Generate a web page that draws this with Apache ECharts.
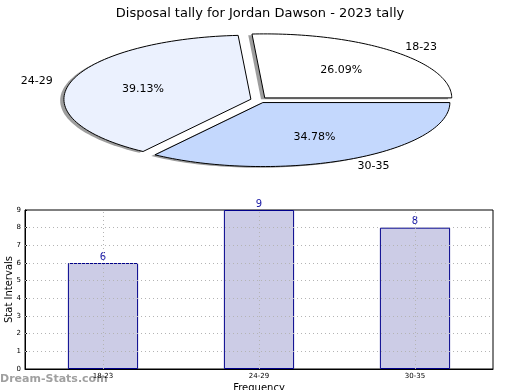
<!DOCTYPE html>
<html><head><meta charset="utf-8">
<script src="https://cdn.jsdelivr.net/npm/echarts@6/dist/echarts.min.js"></script>
<style>html,body{margin:0;padding:0;background:#fff}#c{width:520px;height:390px}</style>
</head><body><div id="c"></div>
<script>
var title = 'Disposal tally for Jordan Dawson - 2023 tally';
var categories = ['18-23', '24-29', '30-35'];
var counts = [6, 9, 8];
var pieColors = ['#ffffff', '#ebf1fe', '#c4d8fd'];
var yTicks = [1, 2, 3, 4, 5, 6, 7, 8];

var FONT = 'DejaVu Sans';
var total = counts.reduce(function (a, b) { return a + b; }, 0);
var PIE = { cx: 259, cy: 100, rx: 187, ry: 64, explode: 0.045 };

function pieItem(params, api) {
  var i = params.dataIndex;
  var before = 0;
  for (var k = 0; k < i; k++) before += counts[k];
  var a0 = before / total * 2 * Math.PI;
  var a1 = (before + counts[i]) / total * 2 * Math.PI;
  var mid = (a0 + a1) / 2;
  var cx = PIE.cx + PIE.explode * PIE.rx * Math.cos(mid);
  var cy = PIE.cy - PIE.explode * PIE.ry * Math.sin(mid);
  function pts(ox, oy) {
    var p = [[cx + ox, cy + oy]];
    var n = 80;
    for (var j = 0; j <= n; j++) {
      var a = a0 + (a1 - a0) * j / n;
      p.push([cx + ox + PIE.rx * Math.cos(a), cy + oy - PIE.ry * Math.sin(a)]);
    }
    return p;
  }
  var pct = (counts[i] / total * 100).toFixed(2) + '%';
  var lx = cx + 1.1 * PIE.rx * Math.cos(mid);
  var ly = cy - 1.1 * PIE.ry * Math.sin(mid);
  var px = cx + 0.6 * PIE.rx * Math.cos(mid);
  var py = cy - 0.6 * PIE.ry * Math.sin(mid);
  return {
    type: 'group',
    children: [
      { type: 'polygon', shape: { points: pts(-0.02 * PIE.rx, 0.02 * PIE.ry) },
        style: { fill: 'rgba(60,60,60,0.5)', stroke: null }, z2: 1 },
      { type: 'polygon', shape: { points: pts(0, 0) },
        style: { fill: pieColors[i], stroke: '#000', lineWidth: 1 }, z2: 2 },
      { type: 'text', z2: 3, style: { text: pct, x: px, y: py, align: 'center', verticalAlign: 'middle',
        font: '11px "' + FONT + '"', fill: '#000' } },
      { type: 'text', z2: 3, style: { text: categories[i], x: lx, y: ly + 1,
        align: Math.cos(mid) >= 0 ? 'left' : 'right', verticalAlign: 'middle',
        font: '11px "' + FONT + '"', fill: '#000' } }
    ]
  };
}

var chart = echarts.init(document.getElementById('c'), null, { renderer: 'canvas' });
var dotted = { color: '#b4b4b4', type: [1, 3], width: 1 };
chart.setOption({
  animation: false,
  textStyle: { fontFamily: FONT },
  title: { text: title, left: 'center', top: 2,
    textStyle: { fontSize: 13, fontWeight: 'normal', color: '#000', fontFamily: FONT } },
  grid: { left: 25, right: 27, top: 210, bottom: 21, containLabel: false, outerBoundsMode: 'none',
    show: true, borderColor: '#000', borderWidth: 1 },
  xAxis: {
    type: 'category', data: categories,
    axisLine: { lineStyle: { color: '#000' } }, axisTick: { show: false },
    axisLabel: { fontSize: 7, color: '#000', margin: 4 },
    name: 'Frequency', nameLocation: 'middle', nameGap: 14, nameMoveOverlap: false,
    nameTextStyle: { fontSize: 10, color: '#000' }
  },
  yAxis: {
    type: 'value', min: 0, max: 9, interval: 1,
    axisLine: { show: true, lineStyle: { color: '#000' } },
    axisTick: { show: true, inside: true, length: 2, lineStyle: { color: '#000' } },
    splitLine: { show: false },
    axisLabel: { fontSize: 7, color: '#000', margin: 4 },
    name: 'Stat Intervals', nameLocation: 'middle', nameGap: 11, nameMoveOverlap: false,
    nameTextStyle: { fontSize: 10, color: '#000' }
  },
  graphic: [
    { type: 'text', left: 0, top: 374,
      style: { text: 'Dream-Stats.com', font: 'bold 11px "' + FONT + '"', fill: '#a0a0a0' } }
  ],
  series: [
    { type: 'custom', coordinateSystem: 'none', data: counts, renderItem: pieItem },
    {
      type: 'bar', data: counts, barWidth: '45%',
      itemStyle: { color: '#ccccE6', borderColor: '#00008b', borderWidth: 1 },
      label: { show: true, position: 'top', distance: 1, fontSize: 10, color: '#1a1aa6' },
      markLine: {
        silent: true, symbol: 'none', label: { show: false }, lineStyle: dotted, z: 5,
        data: categories.map(function (c) { return { xAxis: c }; })
          .concat(yTicks.map(function (v) { return { yAxis: v }; }))
      }
    }
  ]
});
</script></body></html>
